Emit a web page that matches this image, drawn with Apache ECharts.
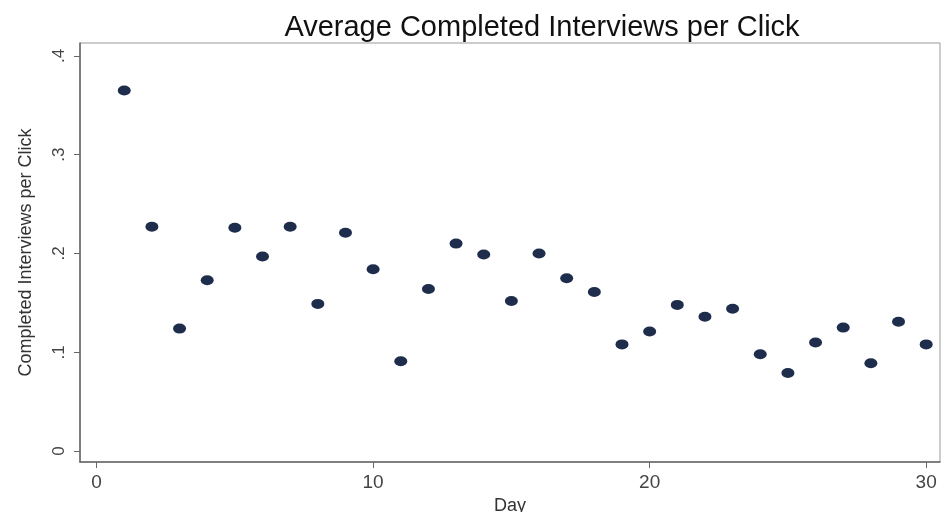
<!DOCTYPE html>
<html>
<head>
<meta charset="utf-8">
<script src="https://cdn.jsdelivr.net/npm/echarts@6/dist/echarts.min.js"></script>
<style>
html,body{margin:0;padding:0;background:#fff;}
#chart{width:942px;height:512px;}
</style>
</head>
<body>
<div id="chart"></div>
<script>
const days = [1,2,3,4,5,6,7,8,9,10,11,12,13,14,15,16,17,18,19,20,21,22,23,24,25,26,27,28,29,30];
const values = [0.365,0.227,0.124,0.173,0.226,0.197,0.227,0.149,0.221,0.184,0.091,0.164,0.210,0.199,0.152,0.200,0.175,0.161,0.108,0.121,0.148,0.136,0.144,0.098,0.079,0.110,0.125,0.089,0.131,0.108];
const xTicks = [0,10,20,30];
const yTicks = [0,0.1,0.2,0.3,0.4];
const titleText = 'Average Completed Interviews per Click';
const xName = 'Day';
const yName = 'Completed Interviews per Click';

const chart = echarts.init(document.getElementById('chart'), null, {renderer:'canvas'});
const font = 'Liberation Sans, Arial, Helvetica, sans-serif';
chart.setOption({
  animation:false,
  backgroundColor:'#fff',
  title:{
    text:titleText,
    left:537, top:8, textAlign:'center',
    textStyle:{fontFamily:font, fontSize:29, fontWeight:'normal', color:'#111'}
  },
  grid:{left:80, right:2, top:43, bottom:50, show:true, borderColor:'#999', borderWidth:1,
        containLabel:false, outerBoundsMode:'none'},
  xAxis:{
    type:'value', min:-0.6, max:30.5,
    name:xName, nameLocation:'middle', nameGap:28,
    nameTextStyle:{fontFamily:font, fontSize:18, color:'#333'},
    axisLine:{show:true, onZero:false, lineStyle:{color:'#666', width:1.5}},
    axisTick:{show:true, inside:false, length:6, customValues:xTicks, lineStyle:{color:'#666'}},
    axisLabel:{customValues:xTicks, margin:11, fontFamily:font, fontSize:19, color:'#444'},
    splitLine:{show:false}
  },
  yAxis:{
    type:'value', min:-0.011, max:0.413,
    name:yName, nameLocation:'middle', nameGap:45, nameRotate:90,
    nameTextStyle:{fontFamily:font, fontSize:18, color:'#333'},
    axisLine:{show:true, onZero:false, lineStyle:{color:'#666', width:1.5}},
    axisTick:{show:true, inside:false, length:6, customValues:yTicks, lineStyle:{color:'#666'}},
    axisLabel:{customValues:yTicks, rotate:90, margin:12, fontFamily:font, fontSize:17, color:'#444',
      formatter:function(v){ if (Math.abs(v) < 1e-9) return '0'; return String(Math.round(v*10)/10).replace(/^0/, ''); }},
    splitLine:{show:false}
  },
  series:[{
    type:'scatter',
    data:days.map((d,i)=>[d, values[i]]),
    symbol:'circle',
    symbolSize:[13,10],
    itemStyle:{color:'#1f2d4d', opacity:1}
  }]
});
</script>
</body>
</html>
